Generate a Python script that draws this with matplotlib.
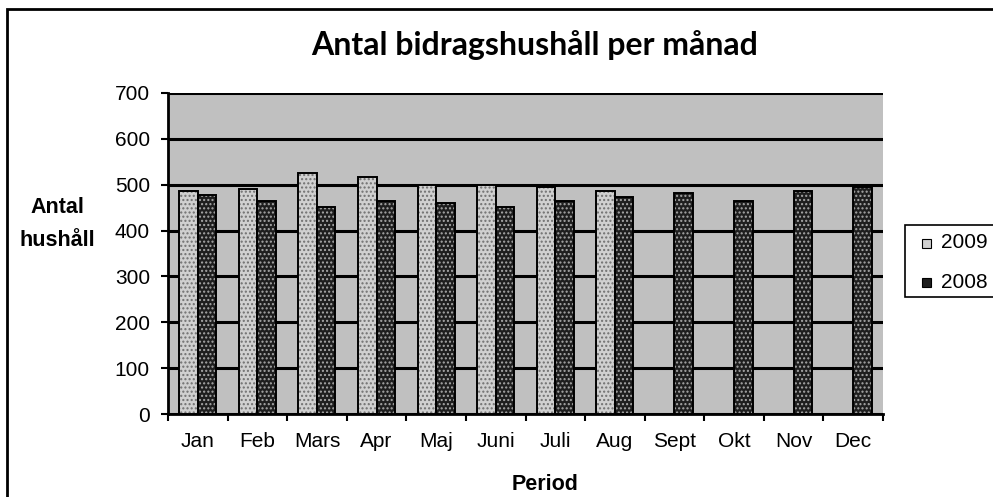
import matplotlib.pyplot as plt
import numpy as np
from matplotlib.patches import Rectangle

plt.rcParams['font.family'] = ['Liberation Sans', 'DejaVu Sans']

# Data
months = ["Jan", "Feb", "Mars", "Apr", "Maj", "Juni", "Juli", "Aug", "Sept", "Okt", "Nov", "Dec"]
y2009 = [486, 490, 526, 517, 499, 500, 495, 486, np.nan, np.nan, np.nan, np.nan]
y2008 = [478, 465, 451, 465, 461, 451, 465, 473, 482, 465, 486, 495]

fig = plt.figure(figsize=(9.93, 4.97), dpi=100)
ax = fig.add_axes([168 / 993, 1 - 414 / 497, (883 - 168) / 993, (414 - 93) / 497])
ax.set_facecolor('#c0c0c0')

x = np.arange(len(months))
w = 0.31

# fill + dotted hatch, then black outline on top
ax.bar(x - w / 2, y2009, w, color='#d0d0d0', hatch='....', edgecolor='#707070', linewidth=0, zorder=3)
ax.bar(x - w / 2, y2009, w, fill=False, edgecolor='black', linewidth=1.4, zorder=4)
ax.bar(x + w / 2, y2008, w, color='#1e1e1e', hatch='....', edgecolor='#a8a8a8', linewidth=0, zorder=3)
ax.bar(x + w / 2, y2008, w, fill=False, edgecolor='black', linewidth=1.4, zorder=4)

ax.set_xlim(-0.5, len(months) - 0.5)
ax.set_ylim(0, 700)
ax.set_yticks(range(0, 701, 100))
ax.yaxis.grid(True, color='black', linewidth=2.2, zorder=1)
ax.set_axisbelow(True)

ax.set_xticks(x)
ax.set_xticklabels(months, fontsize=15)
ax.set_xticks(np.arange(-0.5, len(months), 1), minor=True)
ax.tick_params(axis='x', which='major', length=0, pad=13)
ax.tick_params(axis='x', which='minor', length=5, width=1.5, direction='out')
ax.tick_params(axis='y', labelsize=15, length=5, width=1.5, direction='out', pad=8)

for s in ['top', 'right']:
    ax.spines[s].set_visible(False)
ax.spines['left'].set_linewidth(2)
ax.spines['bottom'].set_linewidth(2)

fig.text(545 / 993, 1 - 484 / 497, 'Period', fontsize=15.5, fontweight='bold', ha='center', va='center')
fig.text(57 / 993, 1 - 224 / 497, 'Antal\nhushåll', fontsize=15.5, fontweight='bold',
         ha='center', va='center', linespacing=1.75)
fig.text(535 / 993, 1 - 45 / 497, 'Antal bidragshushåll per månad', fontsize=23,
         fontweight='bold', ha='center', va='center', family=['Lato', 'DejaVu Sans'])

# legend box
fig.patches.append(Rectangle((905 / 993, 1 - 297 / 497), 0.2, 72 / 497, transform=fig.transFigure,
                             facecolor='white', edgecolor='black', linewidth=1.2))
for i, (lab, col) in enumerate([('2009', '#d0d0d0'), ('2008', '#1e1e1e')]):
    yy = 1 - (243 + i * 39) / 497
    fig.patches.append(Rectangle((922 / 993, yy - 4.5 / 497), 9 / 993, 9 / 497, transform=fig.transFigure,
                                 facecolor=col, edgecolor='black', linewidth=0.8))
    fig.text(941 / 993, yy, lab, fontsize=15, va='center', ha='left')

# outer chart border
fig.patches.append(Rectangle((7 / 993, -0.1), 1.1, 1 - 9 / 497 + 0.1, transform=fig.transFigure,
                             fill=False, edgecolor='black', linewidth=2))

fig.savefig('out.png', dpi=100)
